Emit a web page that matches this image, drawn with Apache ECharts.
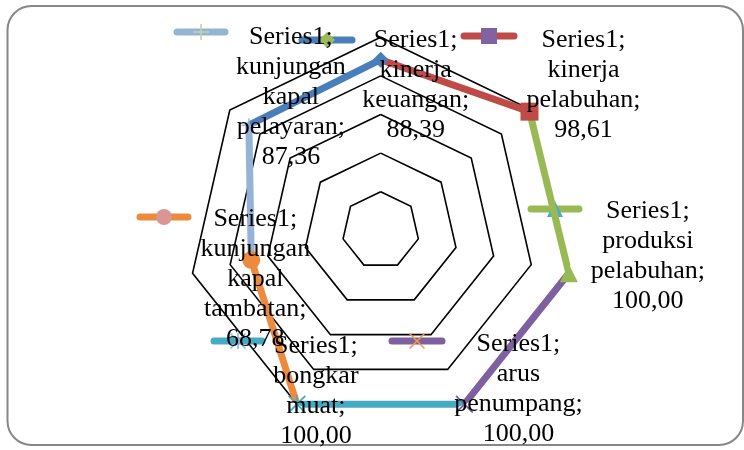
<!DOCTYPE html>
<html>
<head>
<meta charset="utf-8">
<script src="https://cdn.jsdelivr.net/npm/echarts@6/dist/echarts.min.js"></script>
<style>
  html, body { margin: 0; padding: 0; background: #ffffff; }
  #chart { width: 744px; height: 450px; }
</style>
</head>
<body>
<div id="chart"></div>
<script>
// ---- data ----
const seriesName = 'Series1';
const categories = [
  'kinerja keuangan',
  'kinerja pelabuhan',
  'produksi pelabuhan',
  'arus penumpang',
  'bongkar muat',
  'kunjungan kapal tambatan',
  'kunjungan kapal pelayaran'
];
const values = [88.39, 98.61, 100.00, 100.00, 100.00, 68.78, 87.36];
const radiusTicks = [0, 20, 40, 60, 80, 100];

// ---- styling ----
const lineColors = ['#4A7EBB', '#BE4B48', '#98B954', '#7D60A0', '#46AAC5', '#EE8A3E', '#95B3D7'];
const keyMarkerColors = ['#9BBB59', '#8064A2', '#4BACC6', '#F79646', '#95B3D7', '#D99694', '#C3D69B'];
const PLUS = 'path://M9,0H11V9H20V11H11V20H9V11H0V9H9Z';
const CROSS = 'path://M1.4,0L10,8.6L18.6,0L20,1.4L11.4,10L20,18.6L18.6,20L10,11.4L1.4,20L0,18.6L8.6,10L0,1.4Z';
const STAR = CROSS + 'M9,0H11V20H9Z';
const symbols = ['diamond', 'rect', 'triangle', CROSS, STAR, 'circle', PLUS];
const symbolSizes = [16, 18, 18, 18, 18, 18, 14];
// label centre relative to its point
const labelOffsets = [[35, 25], [54, -26], [79, -17], [54, -15], [19, -13], [4, 19], [42, -28]];
// legend keys: left edge, centre y, total length
const keyBoxes = [[295, 40, 57], [457, 36, 57], [524, 209, 55], [385, 341, 57], [207, 341, 55], [133, 217, 55], [170, 32, 55]];

const CENTER = [380.7, 230.3];
const RADIUS = 193;
const LINE_W = 7;
const FONT = '"Liberation Serif", "Times New Roman", serif';

const n = categories.length;
const fmtValue = v => v.toFixed(2).replace('.', ',');
const labelText = i => [seriesName + ';'].concat(categories[i].split(' ').map((w, k, arr) => k === arr.length - 1 ? w + ';' : w)).concat([fmtValue(values[i])]).join('\n');

// one line piece per point, running from the previous point to this one
const series = categories.map((name, i) => {
  const prev = (i + n - 1) % n;
  return {
    name: name,
    type: 'line',
    coordinateSystem: 'polar',
    z: 3,
    symbol: symbols[i],
    symbolSize: symbolSizes[i],
    itemStyle: { color: lineColors[i] },
    lineStyle: { color: lineColors[i], width: LINE_W },
    data: [
      { value: [values[prev], prev], symbol: 'none', label: { show: false } },
      {
        value: [values[i], i],
        label: {
          show: true,
          position: 'inside',
          offset: labelOffsets[i],
          formatter: () => labelText(i),
          fontFamily: FONT,
          fontSize: 26,
          lineHeight: 30,
          color: '#000000'
        }
      }
    ]
  };
});

const legends = categories.map((name, i) => {
  const [left, cy, len] = keyBoxes[i];
  return {
    left: left + LINE_W / 2,
    top: cy - 10,
    padding: 0,
    itemGap: 0,
    itemWidth: len - LINE_W,
    itemHeight: 20,
    selectedMode: false,
    z: 2,
    formatter: () => '',
    data: [{
      name: name,
      itemStyle: { color: keyMarkerColors[i], borderWidth: 0 },
      lineStyle: { color: lineColors[i], width: LINE_W, cap: 'round' }
    }]
  };
});

const chart = echarts.init(document.getElementById('chart'), null, { renderer: 'canvas' });
chart.setOption({
  animation: false,
  backgroundColor: '#ffffff',
  graphic: [{
    type: 'rect',
    z: 0,
    shape: { x: 7.5, y: 6, width: 735.5, height: 439, r: 24 },
    style: { fill: 'none', stroke: '#878787', lineWidth: 2 }
  }],
  radar: {
    z: 1,
    center: CENTER,
    radius: RADIUS,
    startAngle: 90,
    shape: 'polygon',
    splitNumber: radiusTicks.length - 1,
    indicator: categories.map(name => ({ name: name, min: radiusTicks[0], max: radiusTicks[radiusTicks.length - 1] })),
    axisName: { show: false },
    axisLine: { show: false },
    axisTick: { show: false },
    axisLabel: { show: false },
    splitArea: { show: false },
    splitLine: { lineStyle: { color: '#000000', width: 1.6 } }
  },
  polar: { center: CENTER, radius: RADIUS },
  angleAxis: { type: 'value', min: 0, max: n, startAngle: 90, clockwise: true, show: false },
  radiusAxis: { type: 'value', min: radiusTicks[0], max: radiusTicks[radiusTicks.length - 1], show: false },
  legend: legends,
  series: series
});
</script>
</body>
</html>
